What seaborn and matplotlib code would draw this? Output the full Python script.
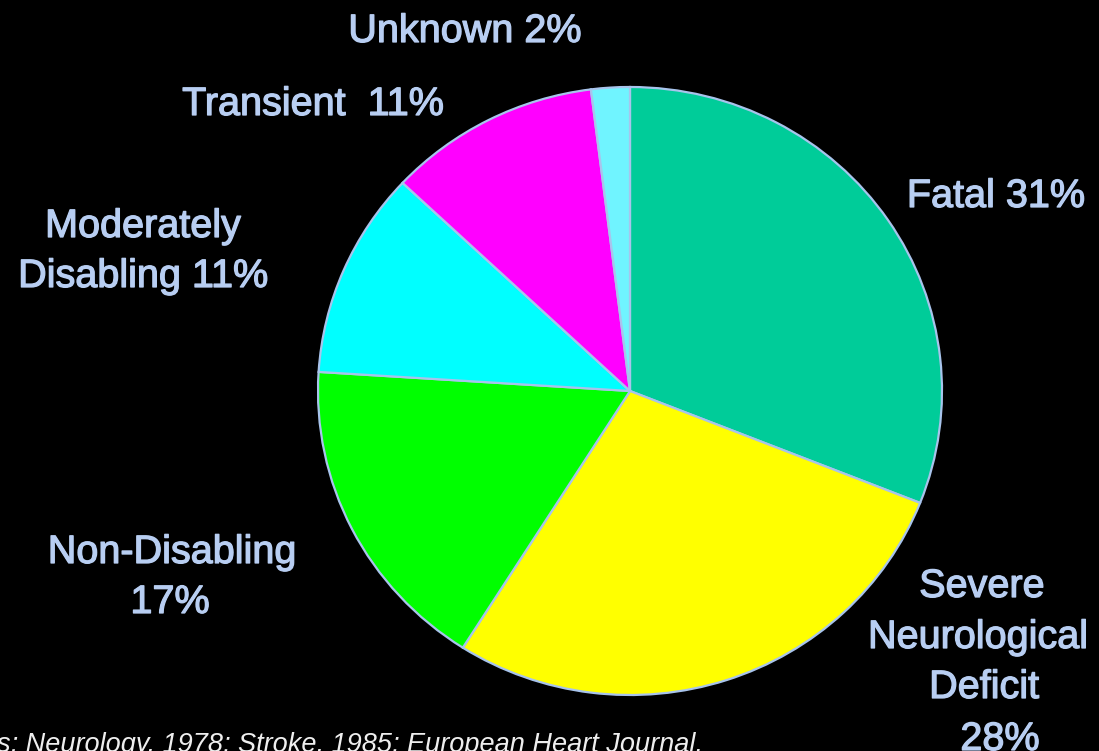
import matplotlib
matplotlib.use("Agg")
import matplotlib.pyplot as plt
import matplotlib.patheffects as pe
from matplotlib import font_manager
import seaborn as sns

# Outcome shares, clockwise from 12 o'clock
categories = ["Fatal", "Severe Neurological Deficit", "Non-Disabling",
              "Moderately Disabling", "Transient", "Unknown"]
shares = [31, 28, 17, 11, 11, 2]
slice_colors = ["#00CC99", "#FFFF00", "#00FF00", "#00FFFF", "#FF00FF", "#70F4FF"]
citation = "s; Neurology, 1978; Stroke, 1985; European Heart Journal,"

sns.set_theme(style="dark", rc={"figure.facecolor": "black", "axes.facecolor": "black"})
plt.rcParams["font.family"] = ["Liberation Sans", "DejaVu Sans"]

W, H = 1099, 751
fig = plt.figure(figsize=(W / 100, H / 100), dpi=100)
fig.patch.set_facecolor("black")

# pie box in pixels: centre (630, 391), radii 312 x 304
cx, cy, rx, ry = 630, 391, 312, 304
ax = fig.add_axes([(cx - rx) / W, 1 - (cy + ry) / H, 2 * rx / W, 2 * ry / H])
ax.pie(shares, colors=slice_colors, startangle=90, counterclock=False,
       wedgeprops=dict(edgecolor="#A8C4EC", linewidth=1.6))
ax.set_aspect("auto")
ax.set_xlim(-1, 1)
ax.set_ylim(-1, 1)
ax.axis("off")

label_color = "#B8CEF2"
thicken = [pe.withStroke(linewidth=0.9, foreground=label_color)]

# each label line: (text, centre x, baseline y) in pixels
label_lines = [
    ("Unknown 2%", 465, 42),
    ("Transient  11%", 313, 115),
    ("Fatal 31%", 996, 207),
    ("Moderately", 143, 237),
    ("Disabling 11%", 143, 287),
    ("Non-Disabling", 172, 563),
    ("17%", 170, 613),
    ("Severe", 982, 597),
    ("Neurological", 978, 648),
    ("Deficit", 984, 698),
    ("28%", 1000, 750),
]
for text, x, y in label_lines:
    fig.text(x / W, 1 - y / H, text, color=label_color, fontsize=28.5,
             ha="center", va="baseline", path_effects=thicken)

# source line along the bottom edge, in a narrow italic face when present
try:
    font_manager.findfont("Liberation Sans Narrow", fallback_to_default=False)
    cite_family, cite_size = ["Liberation Sans Narrow", "Liberation Sans"], 23.5
except ValueError:
    cite_family, cite_size = ["Liberation Sans", "DejaVu Sans"], 19.5
fig.text(-3 / W, 1 - 752 / H, citation, color="#EEEEEE", fontsize=cite_size,
         family=cite_family, style="italic", ha="left", va="baseline")

fig.savefig("out.png", dpi=100, facecolor="black")
